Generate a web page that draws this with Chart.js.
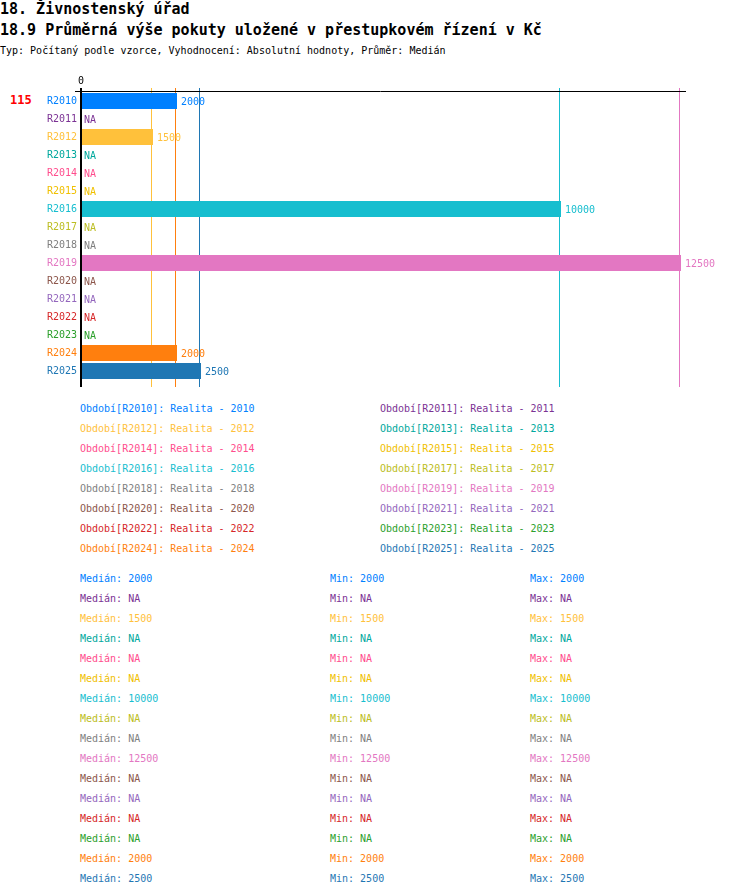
<!DOCTYPE html>
<html>
<head>
<meta charset="utf-8">
<script src="https://cdn.jsdelivr.net/npm/chart.js@4"></script>
<style>
  body { margin: 0; background: #fff; font-family: "DejaVu Sans Mono", monospace; }
  .t { position: absolute; white-space: pre; }
  .h1 { left: 0; top: 2px; font-size: 15px; line-height: 15px; font-weight: bold; }
  .h2 { left: 0; top: 23px; font-size: 15px; line-height: 15px; font-weight: bold; }
  .sub { left: 0; top: 46px; font-size: 10px; line-height: 10px; }
  .row { font-size: 10px; line-height: 10px; }
  #wrap { position: absolute; left: 0; top: 70px; width: 750px; height: 330px; }
</style>
</head>
<body>
<div class="t h1">18. Živnostenský úřad</div>
<div class="t h2">18.9 Průměrná výše pokuty uložené v přestupkovém řízení v Kč</div>
<div class="t sub">Typ: Počítaný podle vzorce, Vyhodnocení: Absolutní hodnoty, Průměr: Medián</div>
<div class="t" style="left:10px;top:94px;font-size:12px;line-height:12px;font-weight:bold;color:#ff0000">115</div>
<div id="wrap"><canvas id="chart" width="750" height="330"></canvas></div>
<div id="legend"></div>
<div id="stats"></div>
<script>
// categories and values (null = NA)
const periods = ['R2010', 'R2011', 'R2012', 'R2013', 'R2014', 'R2015', 'R2016', 'R2017',
                 'R2018', 'R2019', 'R2020', 'R2021', 'R2022', 'R2023', 'R2024', 'R2025'];
const years = ['2010', '2011', '2012', '2013', '2014', '2015', '2016', '2017',
               '2018', '2019', '2020', '2021', '2022', '2023', '2024', '2025'];
const medians = [2000, null, 1500, null, null, null, 10000, null, null, 12500, null, null, null, null, 2000, 2500];
const mins    = [2000, null, 1500, null, null, null, 10000, null, null, 12500, null, null, null, null, 2000, 2500];
const maxs    = [2000, null, 1500, null, null, null, 10000, null, null, 12500, null, null, null, null, 2000, 2500];
const colors = ['#0080ff', '#7b3294', '#ffc13b', '#00a89d', '#ff4d8d', '#f0c000', '#17becf', '#bcbd22',
                '#7f7f7f', '#e377c2', '#8c564b', '#9467bd', '#d62728', '#2ca02c', '#ff7f0e', '#1f77b4'];
const xTickLabels = ['0'];

const FONT = '"DejaVu Sans Mono", monospace';
const fmt = v => (v === null ? 'NA' : String(v));

// legend rows (two columns)
const legend = document.getElementById('legend');
periods.forEach((p, i) => {
  const d = document.createElement('div');
  d.className = 't row';
  d.style.left = (i % 2 === 0 ? 80 : 380) + 'px';
  d.style.top = (404 + Math.floor(i / 2) * 20) + 'px';
  d.style.color = colors[i];
  d.textContent = 'Období[' + p + ']: Realita - ' + years[i];
  legend.appendChild(d);
});

// stats rows
const stats = document.getElementById('stats');
periods.forEach((p, i) => {
  [['Medián: ', medians, 80], ['Min: ', mins, 330], ['Max: ', maxs, 530]].forEach(([lab, arr, x]) => {
    const d = document.createElement('div');
    d.className = 't row';
    d.style.left = x + 'px';
    d.style.top = (574 + i * 20) + 'px';
    d.style.color = colors[i];
    d.textContent = lab + fmt(arr[i]);
    stats.appendChild(d);
  });
});

// vertical reference lines at each value + axis lines
const refLines = {
  id: 'refLines',
  beforeDatasetsDraw(chart) {
    const { ctx, chartArea, scales: { x } } = chart;
    ctx.save();
    ctx.lineWidth = 1;
    medians.forEach((v, i) => {
      if (v === null) return;
      const px = Math.round(x.getPixelForValue(v)) - 1.5;
      ctx.strokeStyle = colors[i];
      ctx.beginPath();
      ctx.moveTo(px, chartArea.top - 4);
      ctx.lineTo(px, chartArea.bottom + 7);
      ctx.stroke();
    });
    ctx.restore();
  },
  afterDatasetsDraw(chart) {
    const { ctx, chartArea, scales: { x, y } } = chart;
    ctx.save();
    // value labels
    ctx.font = '10px ' + FONT;
    ctx.textBaseline = 'middle';
    ctx.textAlign = 'left';
    const meta = chart.getDatasetMeta(0);
    medians.forEach((v, i) => {
      const py = y.getPixelForValue(i);
      const px = v === null ? x.getPixelForValue(0) + 3 : meta.data[i].x + 4;
      ctx.fillStyle = colors[i];
      ctx.fillText(fmt(v), px, py + 1);
    });
    // axes
    const x0 = x.getPixelForValue(0);
    ctx.strokeStyle = '#000';
    ctx.lineWidth = 1;
    ctx.beginPath();
    ctx.moveTo(chartArea.left - 6, chartArea.top - 0.5);
    ctx.lineTo(chartArea.right + 5, chartArea.top - 0.5);
    ctx.stroke();
    ctx.lineWidth = 2;
    ctx.beginPath();
    ctx.moveTo(x0, chartArea.top - 4);
    ctx.lineTo(x0, chartArea.bottom + 7);
    ctx.stroke();
    ctx.restore();
  }
};

new Chart(document.getElementById('chart'), {
  type: 'bar',
  data: {
    labels: periods,
    datasets: [{
      data: medians,
      backgroundColor: colors,
      borderWidth: 0,
      barPercentage: 0.89,
      categoryPercentage: 1
    }]
  },
  options: {
    indexAxis: 'y',
    responsive: false,
    animation: false,
    devicePixelRatio: 1,
    layout: { padding: { top: 0, right: 69, bottom: 20, left: 0 } },
    plugins: { legend: { display: false }, tooltip: { enabled: false } },
    scales: {
      x: {
        position: 'top',
        min: 0,
        max: 12500,
        afterFit: s => { s.height = 22; },
        grid: { display: false, drawTicks: false },
        border: { display: false },
        ticks: {
          autoSkip: false,
          padding: 5,
          color: '#000',
          font: { family: FONT, size: 10 },
          callback: (v) => (xTickLabels.includes(String(v)) ? String(v) : '')
        }
      },
      y: {
        afterFit: s => { s.width = 81; },
        grid: { display: false, drawTicks: false },
        border: { display: false },
        ticks: {
          padding: 4,
          color: c => colors[c.index],
          font: { family: FONT, size: 10 }
        }
      }
    }
  },
  plugins: [refLines]
});
</script>
</body>
</html>
